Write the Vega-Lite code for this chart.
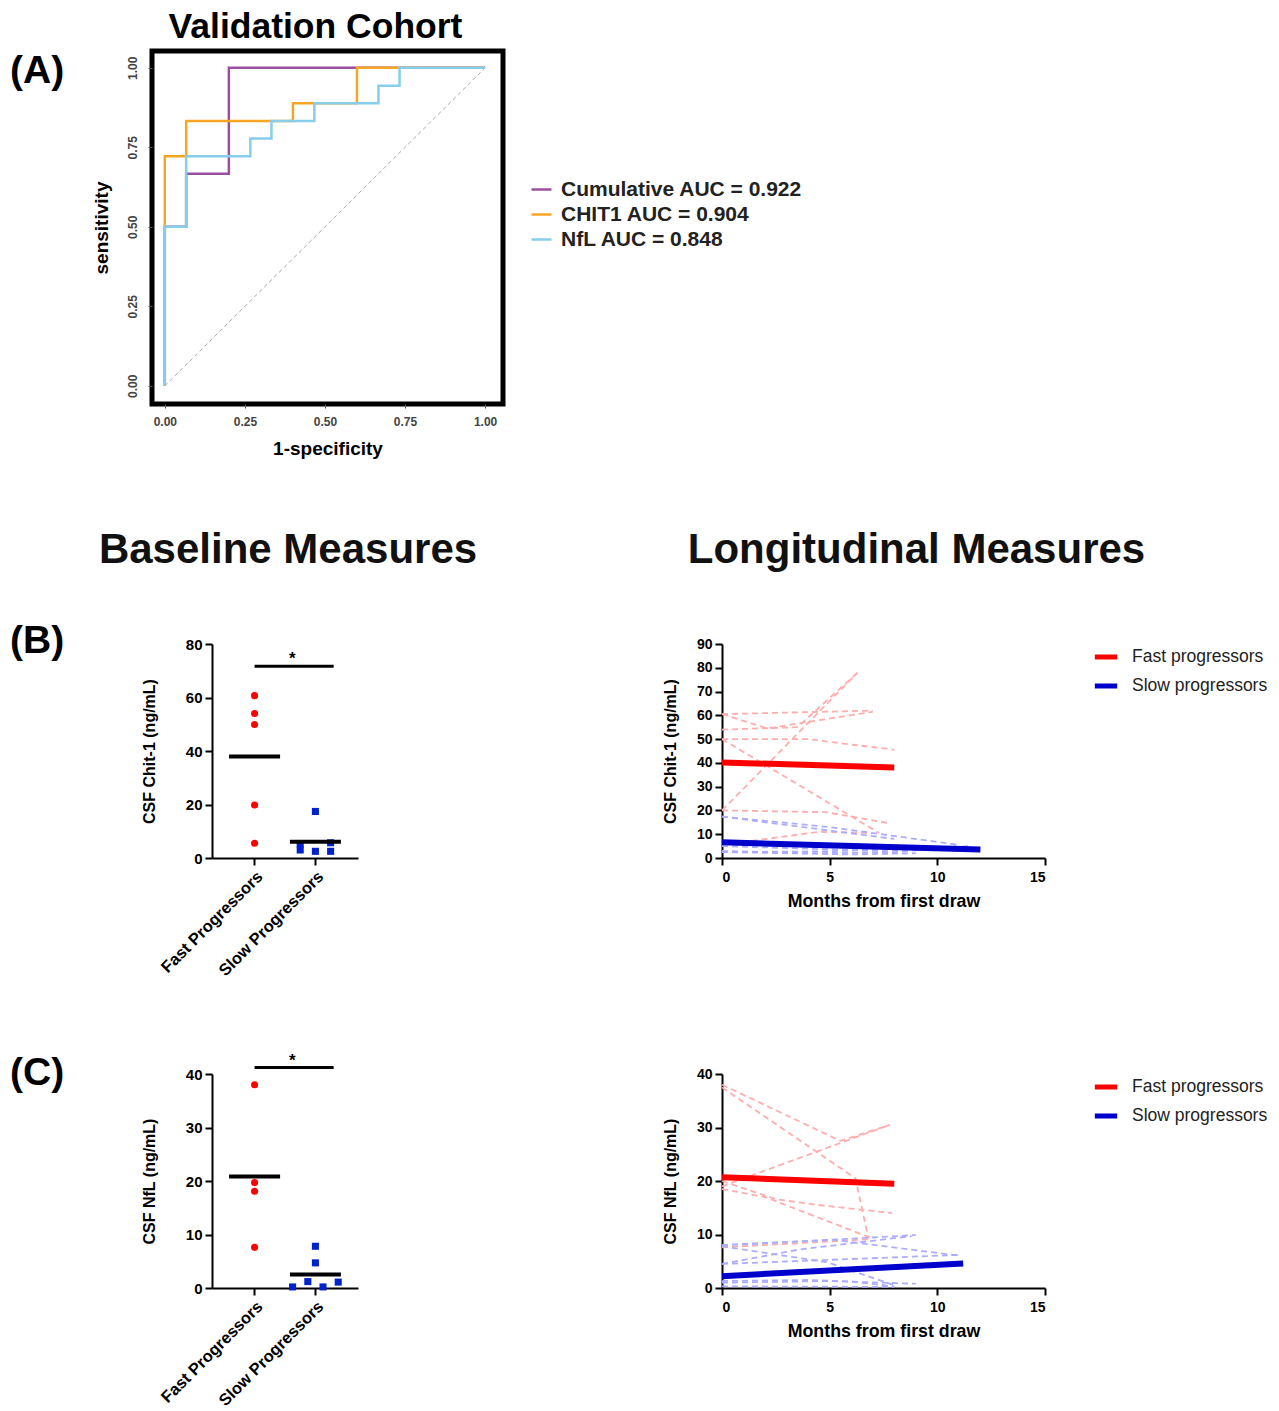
{
  "$schema": "https://vega.github.io/schema/vega-lite/v6.json",
  "background": "white",
  "padding": {"left": 0, "top": 7, "right": 5, "bottom": 5},
  "config": {
    "font": "Liberation Sans",
    "view": {"stroke": null},
    "axis": {
      "domainColor": "#000", "domainWidth": 2, "tickColor": "#000", "tickWidth": 2, "tickSize": 7,
      "labelColor": "#000", "labelFontWeight": "bold", "labelFontSize": 15, "labelPadding": 3, "labelOverlap": false,
      "titleColor": "#000", "titleFontWeight": "bold", "titleFontSize": 16, "grid": false
    },
    "legend": {"labelFont": "Liberation Sans", "labelLimit": 400}
  },
  "datasets": {
    "roc": [
      {"series": "Cumulative AUC = 0.922", "ord": 1, "fpr": 0, "tpr": 0},
      {"series": "Cumulative AUC = 0.922", "ord": 2, "fpr": 0, "tpr": 0.5},
      {"series": "Cumulative AUC = 0.922", "ord": 3, "fpr": 0.0667, "tpr": 0.5},
      {"series": "Cumulative AUC = 0.922", "ord": 4, "fpr": 0.0667, "tpr": 0.667},
      {"series": "Cumulative AUC = 0.922", "ord": 5, "fpr": 0.2, "tpr": 0.667},
      {"series": "Cumulative AUC = 0.922", "ord": 6, "fpr": 0.2, "tpr": 1},
      {"series": "Cumulative AUC = 0.922", "ord": 7, "fpr": 1, "tpr": 1},
      {"series": "CHIT1 AUC = 0.904", "ord": 1, "fpr": 0, "tpr": 0},
      {"series": "CHIT1 AUC = 0.904", "ord": 2, "fpr": 0, "tpr": 0.722},
      {"series": "CHIT1 AUC = 0.904", "ord": 3, "fpr": 0.0667, "tpr": 0.722},
      {"series": "CHIT1 AUC = 0.904", "ord": 4, "fpr": 0.0667, "tpr": 0.833},
      {"series": "CHIT1 AUC = 0.904", "ord": 5, "fpr": 0.4, "tpr": 0.833},
      {"series": "CHIT1 AUC = 0.904", "ord": 6, "fpr": 0.4, "tpr": 0.889},
      {"series": "CHIT1 AUC = 0.904", "ord": 7, "fpr": 0.6, "tpr": 0.889},
      {"series": "CHIT1 AUC = 0.904", "ord": 8, "fpr": 0.6, "tpr": 1},
      {"series": "CHIT1 AUC = 0.904", "ord": 9, "fpr": 1, "tpr": 1},
      {"series": "NfL AUC = 0.848", "ord": 1, "fpr": 0, "tpr": 0},
      {"series": "NfL AUC = 0.848", "ord": 2, "fpr": 0, "tpr": 0.5},
      {"series": "NfL AUC = 0.848", "ord": 3, "fpr": 0.0667, "tpr": 0.5},
      {"series": "NfL AUC = 0.848", "ord": 4, "fpr": 0.0667, "tpr": 0.722},
      {"series": "NfL AUC = 0.848", "ord": 5, "fpr": 0.267, "tpr": 0.722},
      {"series": "NfL AUC = 0.848", "ord": 6, "fpr": 0.267, "tpr": 0.778},
      {"series": "NfL AUC = 0.848", "ord": 7, "fpr": 0.333, "tpr": 0.778},
      {"series": "NfL AUC = 0.848", "ord": 8, "fpr": 0.333, "tpr": 0.833},
      {"series": "NfL AUC = 0.848", "ord": 9, "fpr": 0.467, "tpr": 0.833},
      {"series": "NfL AUC = 0.848", "ord": 10, "fpr": 0.467, "tpr": 0.889},
      {"series": "NfL AUC = 0.848", "ord": 11, "fpr": 0.667, "tpr": 0.889},
      {"series": "NfL AUC = 0.848", "ord": 12, "fpr": 0.667, "tpr": 0.944},
      {"series": "NfL AUC = 0.848", "ord": 13, "fpr": 0.733, "tpr": 0.944},
      {"series": "NfL AUC = 0.848", "ord": 14, "fpr": 0.733, "tpr": 1},
      {"series": "NfL AUC = 0.848", "ord": 15, "fpr": 1, "tpr": 1}
    ],
    "diag": [{"fpr": 0, "tpr": 0}, {"fpr": 1, "tpr": 1}],
    "baseB": [
      {"grp": "Fast Progressors", "col": "z", "val": 60.7},
      {"grp": "Fast Progressors", "col": "z", "val": 54.0},
      {"grp": "Fast Progressors", "col": "z", "val": 49.9},
      {"grp": "Fast Progressors", "col": "z", "val": 19.8},
      {"grp": "Fast Progressors", "col": "z", "val": 5.5},
      {"grp": "Slow Progressors", "col": "z", "val": 17.4},
      {"grp": "Slow Progressors", "col": "z", "val": 2.5},
      {"grp": "Slow Progressors", "col": "m2", "val": 5.2},
      {"grp": "Slow Progressors", "col": "m2", "val": 3.0},
      {"grp": "Slow Progressors", "col": "p2", "val": 5.7},
      {"grp": "Slow Progressors", "col": "p2", "val": 2.5}
    ],
    "baseC": [
      {"grp": "Fast Progressors", "col": "z", "val": 38.0},
      {"grp": "Fast Progressors", "col": "z", "val": 19.7},
      {"grp": "Fast Progressors", "col": "z", "val": 18.1},
      {"grp": "Fast Progressors", "col": "z", "val": 7.6},
      {"grp": "Slow Progressors", "col": "z", "val": 7.8},
      {"grp": "Slow Progressors", "col": "z", "val": 4.7},
      {"grp": "Slow Progressors", "col": "m3", "val": 0.2},
      {"grp": "Slow Progressors", "col": "m1", "val": 1.2},
      {"grp": "Slow Progressors", "col": "p1", "val": 0.2},
      {"grp": "Slow Progressors", "col": "p3", "val": 1.1}
    ],
    "sigB": [{"from": "Fast Progressors", "to": "Slow Progressors", "y": 71.7}],
    "sigC": [{"from": "Fast Progressors", "to": "Slow Progressors", "y": 41.2}],
    "longB": [
      {"grp": "Fast progressors", "id": "R1", "month": 0, "val": 60.5},
      {"grp": "Fast progressors", "id": "R1", "month": 7, "val": 62},
      {"grp": "Fast progressors", "id": "R2", "month": 0, "val": 60.5},
      {"grp": "Fast progressors", "id": "R2", "month": 2.1, "val": 54.5},
      {"grp": "Fast progressors", "id": "R2", "month": 7, "val": 61.5},
      {"grp": "Fast progressors", "id": "R3", "month": 0, "val": 54},
      {"grp": "Fast progressors", "id": "R3", "month": 3.5, "val": 55},
      {"grp": "Fast progressors", "id": "R3", "month": 6.3, "val": 78},
      {"grp": "Fast progressors", "id": "R4", "month": 0, "val": 50},
      {"grp": "Fast progressors", "id": "R4", "month": 4, "val": 50},
      {"grp": "Fast progressors", "id": "R4", "month": 8, "val": 45.5},
      {"grp": "Fast progressors", "id": "R5", "month": 0, "val": 50},
      {"grp": "Fast progressors", "id": "R5", "month": 7.3, "val": 10.5},
      {"grp": "Fast progressors", "id": "R6", "month": 0, "val": 20},
      {"grp": "Fast progressors", "id": "R6", "month": 6.3, "val": 78},
      {"grp": "Fast progressors", "id": "R7", "month": 0, "val": 20},
      {"grp": "Fast progressors", "id": "R7", "month": 4.8, "val": 19.3},
      {"grp": "Fast progressors", "id": "R7", "month": 7.8, "val": 14.6},
      {"grp": "Fast progressors", "id": "R8", "month": 0, "val": 5.5},
      {"grp": "Fast progressors", "id": "R8", "month": 4.5, "val": 11},
      {"grp": "Fast progressors", "id": "R8", "month": 7, "val": 10.5},
      {"grp": "Slow progressors", "id": "S1", "month": 0, "val": 17.4},
      {"grp": "Slow progressors", "id": "S1", "month": 8, "val": 8},
      {"grp": "Slow progressors", "id": "S2", "month": 0, "val": 17.4},
      {"grp": "Slow progressors", "id": "S2", "month": 5, "val": 13},
      {"grp": "Slow progressors", "id": "S2", "month": 11, "val": 5.5},
      {"grp": "Slow progressors", "id": "S3", "month": 0, "val": 5.7},
      {"grp": "Slow progressors", "id": "S3", "month": 6, "val": 5},
      {"grp": "Slow progressors", "id": "S3", "month": 12, "val": 3.5},
      {"grp": "Slow progressors", "id": "S4", "month": 0, "val": 5},
      {"grp": "Slow progressors", "id": "S4", "month": 7.5, "val": 3},
      {"grp": "Slow progressors", "id": "S4", "month": 11.5, "val": 5},
      {"grp": "Slow progressors", "id": "S5", "month": 0, "val": 3},
      {"grp": "Slow progressors", "id": "S5", "month": 4, "val": 2},
      {"grp": "Slow progressors", "id": "S5", "month": 8, "val": 2.5},
      {"grp": "Slow progressors", "id": "S5", "month": 10, "val": 4},
      {"grp": "Slow progressors", "id": "S6", "month": 0, "val": 2.5},
      {"grp": "Slow progressors", "id": "S6", "month": 5, "val": 2.8},
      {"grp": "Slow progressors", "id": "S6", "month": 9, "val": 4.5},
      {"grp": "Slow progressors", "id": "S7", "month": 0, "val": 2.5},
      {"grp": "Slow progressors", "id": "S7", "month": 6, "val": 1.5},
      {"grp": "Slow progressors", "id": "S7", "month": 9, "val": 2}
    ],
    "trendB": [
      {"grp": "Fast progressors", "month": 0, "val": 40.2},
      {"grp": "Fast progressors", "month": 8, "val": 38.1},
      {"grp": "Slow progressors", "month": 0, "val": 6.6},
      {"grp": "Slow progressors", "month": 12, "val": 3.6}
    ],
    "longC": [
      {"grp": "Fast progressors", "id": "CR1", "month": 0, "val": 38},
      {"grp": "Fast progressors", "id": "CR1", "month": 5.5, "val": 27.5},
      {"grp": "Fast progressors", "id": "CR1", "month": 7.8, "val": 30.5},
      {"grp": "Fast progressors", "id": "CR2", "month": 0, "val": 19},
      {"grp": "Fast progressors", "id": "CR2", "month": 7.8, "val": 30.5},
      {"grp": "Fast progressors", "id": "CR3", "month": 0, "val": 37.5},
      {"grp": "Fast progressors", "id": "CR3", "month": 6.2, "val": 20.5},
      {"grp": "Fast progressors", "id": "CR3", "month": 6.8, "val": 9.2},
      {"grp": "Fast progressors", "id": "CR4", "month": 0, "val": 20},
      {"grp": "Fast progressors", "id": "CR4", "month": 2.5, "val": 16.6},
      {"grp": "Fast progressors", "id": "CR4", "month": 4.3, "val": 15.6},
      {"grp": "Fast progressors", "id": "CR4", "month": 7.9, "val": 14},
      {"grp": "Fast progressors", "id": "CR5", "month": 0, "val": 18.5},
      {"grp": "Fast progressors", "id": "CR5", "month": 2, "val": 17},
      {"grp": "Fast progressors", "id": "CR5", "month": 6.9, "val": 9.4},
      {"grp": "Fast progressors", "id": "CR6", "month": 0, "val": 7.6},
      {"grp": "Fast progressors", "id": "CR6", "month": 6.8, "val": 9.1},
      {"grp": "Slow progressors", "id": "CS1", "month": 0, "val": 8},
      {"grp": "Slow progressors", "id": "CS1", "month": 5, "val": 9},
      {"grp": "Slow progressors", "id": "CS1", "month": 9, "val": 9.9},
      {"grp": "Slow progressors", "id": "CS2", "month": 0, "val": 7.8},
      {"grp": "Slow progressors", "id": "CS2", "month": 4.9, "val": 4.8},
      {"grp": "Slow progressors", "id": "CS2", "month": 8, "val": 0.5},
      {"grp": "Slow progressors", "id": "CS3", "month": 0, "val": 4.5},
      {"grp": "Slow progressors", "id": "CS3", "month": 3.6, "val": 7.2},
      {"grp": "Slow progressors", "id": "CS3", "month": 8.8, "val": 9.7},
      {"grp": "Slow progressors", "id": "CS4", "month": 0, "val": 4.5},
      {"grp": "Slow progressors", "id": "CS4", "month": 11.1, "val": 6.2},
      {"grp": "Slow progressors", "id": "CS5", "month": 0, "val": 8},
      {"grp": "Slow progressors", "id": "CS5", "month": 5.2, "val": 9},
      {"grp": "Slow progressors", "id": "CS5", "month": 11.1, "val": 6},
      {"grp": "Slow progressors", "id": "CS6", "month": 0, "val": 1.3},
      {"grp": "Slow progressors", "id": "CS6", "month": 4, "val": 1.5},
      {"grp": "Slow progressors", "id": "CS6", "month": 6, "val": 1.2},
      {"grp": "Slow progressors", "id": "CS6", "month": 8, "val": 0.3},
      {"grp": "Slow progressors", "id": "CS7", "month": 0, "val": 0.3},
      {"grp": "Slow progressors", "id": "CS7", "month": 8, "val": 0.2},
      {"grp": "Slow progressors", "id": "CS8", "month": 0, "val": 1},
      {"grp": "Slow progressors", "id": "CS8", "month": 5, "val": 1.3},
      {"grp": "Slow progressors", "id": "CS8", "month": 9, "val": 0.8}
    ],
    "trendC": [
      {"grp": "Fast progressors", "month": 0, "val": 20.7},
      {"grp": "Fast progressors", "month": 8, "val": 19.5},
      {"grp": "Slow progressors", "month": 0, "val": 2.2},
      {"grp": "Slow progressors", "month": 11.2, "val": 4.6}
    ],
    "labA": [{"label": "(A)"}],
    "labB": [{"label": "(B)"}],
    "labC": [{"label": "(C)"}]
  },
  "spacing": 593,
  "bounds": "flush",
  "resolve": {
    "scale": {"x": "independent", "y": "independent", "color": "independent", "shape": "independent"},
    "legend": {"color": "independent"}
  },
  "vconcat": [
    {
      "spacing": 0,
      "bounds": "flush",
      "resolve": {
        "scale": {"x": "independent", "y": "independent", "color": "independent"},
        "legend": {"color": "independent"}
      },
      "hconcat": [
        {
          "width": 152, "height": 353,
          "data": {"name": "labA"},
          "mark": {"type": "text", "align": "left", "baseline": "middle", "fontSize": 39, "fontWeight": "bold", "color": "#000", "dx": 10, "dy": 20},
          "encoding": {
            "text": {"field": "label"},
            "x": {"datum": 0, "type": "quantitative", "scale": {"domain": [0, 1]}, "axis": null},
            "y": {"datum": 1, "type": "quantitative", "scale": {"domain": [0, 1]}, "axis": null}
          }
        },
        {
          "width": 351, "height": 353,
          "view": {"stroke": "#000", "strokeWidth": 5},
          "title": {"text": "Validation Cohort", "fontSize": 35.5, "fontWeight": "bold", "color": "#000", "frame": "group", "dx": -12, "offset": 6},
          "layer": [
            {
              "data": {"name": "diag"},
              "mark": {"type": "line", "color": "#aaaaaa", "strokeWidth": 1, "strokeDash": [4, 3]},
              "encoding": {
                "x": {"field": "fpr", "type": "quantitative", "scale": {"domain": [-0.04, 1.056], "nice": false, "zero": false},
                  "axis": {"values": [0, 0.25, 0.5, 0.75, 1], "format": ".2f", "domain": false, "tickSize": 4, "tickWidth": 1, "tickColor": "#555", "labelFontSize": 12, "labelColor": "#444", "labelPadding": 8, "title": "1-specificity", "titleFontSize": 19, "titlePadding": 12}},
                "y": {"field": "tpr", "type": "quantitative", "scale": {"domain": [-0.057, 1.053], "nice": false, "zero": false},
                  "axis": {"values": [0, 0.25, 0.5, 0.75, 1], "format": ".2f", "domain": false, "tickSize": 4, "tickWidth": 1, "tickColor": "#555", "labelFontSize": 12, "labelColor": "#444", "labelAngle": 270, "labelAlign": "center", "labelBaseline": "bottom", "labelPadding": 9, "title": "sensitivity", "titleFontSize": 19, "titlePadding": 15}}
              }
            },
            {
              "data": {"name": "roc"},
              "mark": {"type": "line", "strokeWidth": 2.5},
              "encoding": {
                "x": {"field": "fpr", "type": "quantitative", "scale": {"domain": [-0.04, 1.056], "nice": false, "zero": false}},
                "y": {"field": "tpr", "type": "quantitative", "scale": {"domain": [-0.057, 1.053], "nice": false, "zero": false}},
                "order": {"field": "ord"},
                "color": {"field": "series", "type": "nominal",
                  "scale": {"domain": ["Cumulative AUC = 0.922", "CHIT1 AUC = 0.904", "NfL AUC = 0.848"], "range": ["#9C4FA0", "#F6A623", "#87CEEB"]},
                  "legend": {"orient": "none", "legendX": 378, "legendY": 127, "title": null, "symbolType": "stroke", "symbolSize": 400, "symbolStrokeWidth": 2.5, "labelFontSize": 21, "labelFontWeight": "bold", "labelColor": "#222", "rowPadding": 3, "labelOffset": 8}}
              }
            }
          ]
        }
      ]
    },
    {
      "spacing": 430,
      "bounds": "flush",
      "resolve": {
        "scale": {"x": "independent", "y": "independent", "color": "independent", "shape": "independent"},
        "legend": {"color": "independent"}
      },
      "vconcat": [
        {
          "spacing": 0,
          "bounds": "flush",
          "resolve": {
            "scale": {"x": "independent", "y": "independent", "color": "independent", "shape": "independent"},
            "legend": {"color": "independent"}
          },
          "hconcat": [
            {
              "width": 212, "height": 214,
              "data": {"name": "labB"},
              "mark": {"type": "text", "align": "left", "baseline": "middle", "fontSize": 39, "fontWeight": "bold", "color": "#000", "dx": 10, "dy": -3},
              "encoding": {
                "text": {"field": "label"},
                "x": {"datum": 0, "type": "quantitative", "scale": {"domain": [0, 1]}, "axis": null},
                "y": {"datum": 1, "type": "quantitative", "scale": {"domain": [0, 1]}, "axis": null}
              }
            },
            {
              "width": 146, "height": 214,
              "title": {"text": "Baseline Measures", "fontSize": 42, "fontWeight": "bold", "color": "#111", "frame": "group", "dx": 3, "offset": 65},
              "layer": [
                {
                  "data": {"name": "baseB"},
                  "mark": {"type": "point", "filled": true, "size": 50, "opacity": 1},
                  "encoding": {
                    "x": {"field": "grp", "type": "nominal", "scale": {"domain": ["Fast Progressors", "Slow Progressors"], "paddingInner": 0, "paddingOuter": 0.2},
                      "axis": {"title": null, "labelAngle": -45, "labelAlign": "right", "labelBaseline": "top", "labelFontSize": 16.5}},
                    "xOffset": {"field": "col", "type": "nominal", "scale": {"domain": ["m3", "m2", "m1", "z", "p1", "p2", "p3"], "paddingInner": 0, "paddingOuter": 1.57}},
                    "y": {"field": "val", "type": "quantitative", "scale": {"domain": [0, 80], "nice": false},
                      "axis": {"values": [0, 20, 40, 60, 80], "title": "CSF Chit-1 (ng/mL)", "titlePadding": 28}},
                    "color": {"field": "grp", "type": "nominal", "scale": {"domain": ["Fast Progressors", "Slow Progressors"], "range": ["#FF0000", "#0022CC"]}, "legend": null},
                    "shape": {"field": "grp", "type": "nominal", "scale": {"domain": ["Fast Progressors", "Slow Progressors"], "range": ["circle", "square"]}, "legend": null}
                  }
                },
                {
                  "data": {"name": "baseB"},
                  "mark": {"type": "tick", "color": "#000", "thickness": 4, "size": 51},
                  "encoding": {
                    "x": {"field": "grp", "type": "nominal"},
                    "y": {"aggregate": "mean", "field": "val", "type": "quantitative"}
                  }
                },
                {
                  "data": {"name": "sigB"},
                  "mark": {"type": "rule", "color": "#000", "strokeWidth": 3},
                  "encoding": {
                    "x": {"field": "from", "type": "nominal", "bandPosition": 0.5},
                    "x2": {"field": "to", "bandPosition": 0.8},
                    "y": {"field": "y", "type": "quantitative"}
                  }
                },
                {
                  "data": {"name": "sigB"},
                  "mark": {"type": "text", "text": "*", "fontSize": 17, "fontWeight": "bold", "baseline": "bottom", "color": "#000", "dy": 2},
                  "encoding": {
                    "x": {"field": "to", "type": "nominal", "bandPosition": 0.12},
                    "y": {"field": "y", "type": "quantitative"}
                  }
                }
              ]
            },
            {"width": 364, "height": 214, "data": {"values": []}, "mark": "point"},
            {
              "width": 323, "height": 214,
              "title": {"text": "Longitudinal Measures", "fontSize": 42, "fontWeight": "bold", "color": "#111", "frame": "group", "dx": 33, "offset": 65},
              "layer": [
                {
                  "data": {"name": "longB"},
                  "transform": [{"filter": {"field": "grp", "equal": "Fast progressors"}}],
                  "mark": {"type": "line", "strokeDash": [6, 4], "strokeWidth": 1.8, "color": "#FFADAD"},
                  "encoding": {
                    "x": {"field": "month", "type": "quantitative", "scale": {"domain": [0, 15], "nice": false},
                      "axis": {"values": [0, 5, 10, 15], "title": "Months from first draw", "labelFontSize": 14, "labelPadding": 5, "titleFontSize": 17.8, "titlePadding": 8}},
                    "y": {"field": "val", "type": "quantitative", "scale": {"domain": [0, 90], "nice": false},
                      "axis": {"values": [0, 10, 20, 30, 40, 50, 60, 70, 80, 90], "labelOverlap": false, "tickCount": 10, "title": "CSF Chit-1 (ng/mL)", "labelFontSize": 14, "titlePadding": 18}},
                    "detail": {"field": "id", "type": "nominal"}
                  }
                },
                {
                  "data": {"name": "longB"},
                  "transform": [{"filter": {"field": "grp", "equal": "Slow progressors"}}],
                  "mark": {"type": "line", "strokeDash": [6, 4], "strokeWidth": 1.8, "color": "#ADADFF"},
                  "encoding": {
                    "x": {"field": "month", "type": "quantitative"},
                    "y": {"field": "val", "type": "quantitative"},
                    "detail": {"field": "id", "type": "nominal"}
                  }
                },
                {
                  "data": {"name": "trendB"},
                  "mark": {"type": "line", "strokeWidth": 6},
                  "encoding": {
                    "x": {"field": "month", "type": "quantitative"},
                    "y": {"field": "val", "type": "quantitative"},
                    "color": {"field": "grp", "type": "nominal", "scale": {"domain": ["Fast progressors", "Slow progressors"], "range": ["#FF0000", "#0000CC"]},
                      "legend": {"orient": "none", "legendX": 370, "legendY": -1, "title": null, "symbolType": "stroke", "symbolStrokeWidth": 5, "symbolSize": 500, "labelFontSize": 17.5, "labelColor": "#222", "rowPadding": 5, "labelOffset": 12}}
                  }
                }
              ]
            }
          ]
        },
        {
          "spacing": 0,
          "bounds": "flush",
          "resolve": {
            "scale": {"x": "independent", "y": "independent", "color": "independent", "shape": "independent"},
            "legend": {"color": "independent"}
          },
          "hconcat": [
            {
              "width": 212, "height": 214,
              "data": {"name": "labC"},
              "mark": {"type": "text", "align": "left", "baseline": "middle", "fontSize": 39, "fontWeight": "bold", "color": "#000", "dx": 10, "dy": -1},
              "encoding": {
                "text": {"field": "label"},
                "x": {"datum": 0, "type": "quantitative", "scale": {"domain": [0, 1]}, "axis": null},
                "y": {"datum": 1, "type": "quantitative", "scale": {"domain": [0, 1]}, "axis": null}
              }
            },
            {
              "width": 146, "height": 214,
              "layer": [
                {
                  "data": {"name": "baseC"},
                  "mark": {"type": "point", "filled": true, "size": 50, "opacity": 1},
                  "encoding": {
                    "x": {"field": "grp", "type": "nominal", "scale": {"domain": ["Fast Progressors", "Slow Progressors"], "paddingInner": 0, "paddingOuter": 0.2},
                      "axis": {"title": null, "labelAngle": -45, "labelAlign": "right", "labelBaseline": "top", "labelFontSize": 16.5}},
                    "xOffset": {"field": "col", "type": "nominal", "scale": {"domain": ["m3", "m2", "m1", "z", "p1", "p2", "p3"], "paddingInner": 0, "paddingOuter": 1.57}},
                    "y": {"field": "val", "type": "quantitative", "scale": {"domain": [0, 40], "nice": false},
                      "axis": {"values": [0, 10, 20, 30, 40], "title": "CSF NfL (ng/mL)", "titlePadding": 28}},
                    "color": {"field": "grp", "type": "nominal", "scale": {"domain": ["Fast Progressors", "Slow Progressors"], "range": ["#FF0000", "#0022CC"]}, "legend": null},
                    "shape": {"field": "grp", "type": "nominal", "scale": {"domain": ["Fast Progressors", "Slow Progressors"], "range": ["circle", "square"]}, "legend": null}
                  }
                },
                {
                  "data": {"name": "baseC"},
                  "mark": {"type": "tick", "color": "#000", "thickness": 4, "size": 51},
                  "encoding": {
                    "x": {"field": "grp", "type": "nominal"},
                    "y": {"aggregate": "mean", "field": "val", "type": "quantitative"}
                  }
                },
                {
                  "data": {"name": "sigC"},
                  "mark": {"type": "rule", "color": "#000", "strokeWidth": 3},
                  "encoding": {
                    "x": {"field": "from", "type": "nominal", "bandPosition": 0.5},
                    "x2": {"field": "to", "bandPosition": 0.8},
                    "y": {"field": "y", "type": "quantitative"}
                  }
                },
                {
                  "data": {"name": "sigC"},
                  "mark": {"type": "text", "text": "*", "fontSize": 17, "fontWeight": "bold", "baseline": "bottom", "color": "#000", "dy": 2},
                  "encoding": {
                    "x": {"field": "to", "type": "nominal", "bandPosition": 0.12},
                    "y": {"field": "y", "type": "quantitative"}
                  }
                }
              ]
            },
            {"width": 364, "height": 214, "data": {"values": []}, "mark": "point"},
            {
              "width": 323, "height": 214,
              "layer": [
                {
                  "data": {"name": "longC"},
                  "transform": [{"filter": {"field": "grp", "equal": "Fast progressors"}}],
                  "mark": {"type": "line", "strokeDash": [6, 4], "strokeWidth": 1.8, "color": "#FFADAD"},
                  "encoding": {
                    "x": {"field": "month", "type": "quantitative", "scale": {"domain": [0, 15], "nice": false},
                      "axis": {"values": [0, 5, 10, 15], "title": "Months from first draw", "labelFontSize": 14, "labelPadding": 5, "titleFontSize": 17.8, "titlePadding": 8}},
                    "y": {"field": "val", "type": "quantitative", "scale": {"domain": [0, 40], "nice": false},
                      "axis": {"values": [0, 10, 20, 30, 40], "labelOverlap": false, "title": "CSF NfL (ng/mL)", "labelFontSize": 14, "titlePadding": 18}},
                    "detail": {"field": "id", "type": "nominal"}
                  }
                },
                {
                  "data": {"name": "longC"},
                  "transform": [{"filter": {"field": "grp", "equal": "Slow progressors"}}],
                  "mark": {"type": "line", "strokeDash": [6, 4], "strokeWidth": 1.8, "color": "#ADADFF"},
                  "encoding": {
                    "x": {"field": "month", "type": "quantitative"},
                    "y": {"field": "val", "type": "quantitative"},
                    "detail": {"field": "id", "type": "nominal"}
                  }
                },
                {
                  "data": {"name": "trendC"},
                  "mark": {"type": "line", "strokeWidth": 6},
                  "encoding": {
                    "x": {"field": "month", "type": "quantitative"},
                    "y": {"field": "val", "type": "quantitative"},
                    "color": {"field": "grp", "type": "nominal", "scale": {"domain": ["Fast progressors", "Slow progressors"], "range": ["#FF0000", "#0000CC"]},
                      "legend": {"orient": "none", "legendX": 370, "legendY": -1, "title": null, "symbolType": "stroke", "symbolStrokeWidth": 5, "symbolSize": 500, "labelFontSize": 17.5, "labelColor": "#222", "rowPadding": 5, "labelOffset": 12}}
                  }
                }
              ]
            }
          ]
        }
      ]
    }
  ]
}
